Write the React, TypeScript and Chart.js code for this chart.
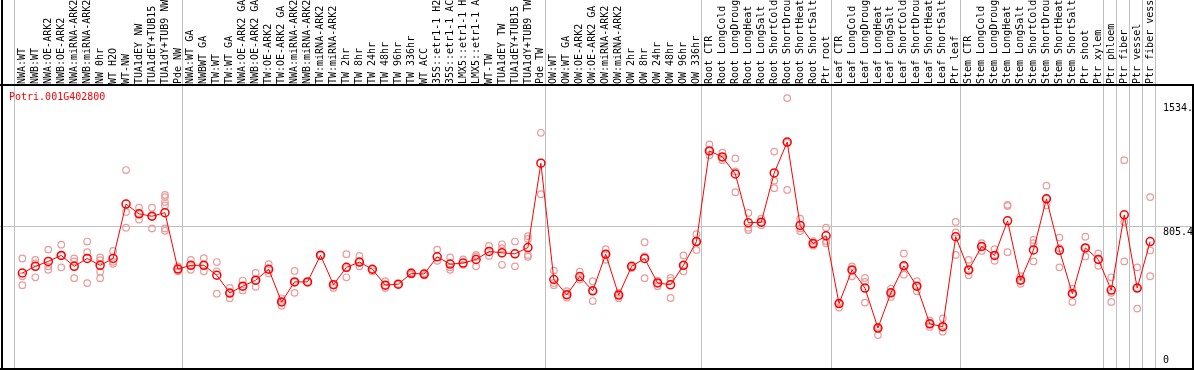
import React, { useEffect, useRef } from "react";
import { Chart, registerables } from "chart.js";

Chart.register(...registerables);

const geneId = "Potri.001G402800";

const categories: string[] = [
  "NWA:WT", "NWB:WT", "NWA:OE-ARK2", "NWB:OE-ARK2", "NWA:miRNA-ARK2", "NWB:miRNA-ARK2",
  "NW 0hr", "WT H2O", "WT-NW", "TUA1dEY NW", "TUA1dEY+TUB15 NW", "TUA1dY+TUB9 NW", "Pde NW",
  "NWA:WT GA", "NWBWT GA", "TW:WT", "TW:WT GA", "NWA:OE-ARK2 GA", "NWB:OE-ARK2 GA",
  "TW:OE-ARK2", "TW:OE-ARK2 GA", "NWA:miRNA-ARK2 GA", "NWB:miRNA-ARK2 GA", "TW:miRNA-ARK2",
  "TW:miRNA-ARK2 GA", "TW 2hr", "TW 8hr", "TW 24hr", "TW 48hr", "TW 96hr", "TW 336hr", "WT ACC",
  "35S::etr1-1 H2O", "35S::etr1-1 ACC", "LMX5::etr1-1 H2O", "LMX5::etr1-1 ACC", "WT-TW",
  "TUA1dEY TW", "TUA1dEY+TUB15 TW", "TUA1dY+TUB9 TW", "Pde TW",
  "OW:WT", "OW:WT GA", "OW:OE-ARK2", "OW:OE-ARK2 GA", "OW:miRNA-ARK2", "OW:miRNA-ARK2 GA",
  "OW 2hr", "OW 8hr", "OW 24hr", "OW 48hr", "OW 96hr", "OW 336hr",
  "Root CTR", "Root LongCold", "Root LongDrought", "Root LongHeat", "Root LongSalt",
  "Root ShortCold", "Root ShortDrought", "Root ShortHeat", "Root ShortSalt", "Ptr root",
  "Leaf CTR", "Leaf LongCold", "Leaf LongDrought", "Leaf LongHeat", "Leaf LongSalt",
  "Leaf ShortCold", "Leaf ShortDrought", "Leaf ShortHeat", "Leaf ShortSalt", "Ptr leaf",
  "Stem CTR", "Stem LongCold", "Stem LongDrought", "Stem LongHeat", "Stem LongSalt",
  "Stem ShortCold", "Stem ShortDrought", "Stem ShortHeat", "Stem ShortSalt", "Ptr shoot", "Ptr xylem",
  "Ptr phloem", "Ptr fiber", "Ptr vessel", "Ptr fiber vessel",
];

const meanValues: number[] = [
  535, 574, 603, 638, 574, 620, 580, 620, 938, 881, 867, 888, 558,
  580, 580, 522, 418, 458, 493, 557, 366, 483, 483, 639, 467, 568, 599, 557, 464, 470,
  533, 529, 630, 587, 593, 614, 661, 653, 647, 684, 1177,
  497, 408, 514, 431, 645, 406, 574, 620, 477, 466, 580, 719,
  1249, 1214, 1114, 829, 832, 1120, 1301, 813, 707, 753,
  356, 553, 447, 213, 419, 577, 458, 238, 221, 747,
  553, 690, 638, 840, 493, 670, 969, 668, 414, 682, 614,
  435, 875, 447, 719,
];

const replicateValues: number[][] = [
  [620, 516, 464], [612, 593, 510], [672, 574, 554], [701, 638, 568], [620, 603, 505],
  [719, 657, 476], [626, 610, 543, 505], [664, 601, 589], [1137, 892, 800], [917, 881, 848],
  [917, 867, 796], [992, 979, 950, 930, 796, 782], [574, 558, 545],
  [612, 580, 554], [622, 580, 545], [599, 545, 414], [448, 418, 387], [491, 458, 433],
  [535, 493, 454], [587, 557, 533], [387, 366, 343], [547, 483, 419], [483, 483],
  [639, 639], [467, 448], [645, 564, 510], [635, 599, 574], [557, 545], [487, 464, 448],
  [470, 470], [540, 533, 527], [533, 522], [672, 606], [626, 568, 554], [614, 583],
  [641, 630, 574], [693, 635], [703, 680, 583], [719, 574], [751, 734, 641, 630], [1355, 996],
  [549, 477, 464], [429, 408, 391], [543, 497], [487, 431, 371], [674, 645, 612],
  [419, 406, 387], [574, 564], [715, 632, 505], [491, 477, 458], [506, 491, 389],
  [638, 580, 545], [762, 719, 670],
  [1287, 1249, 1224], [1239, 1214, 1195], [1205, 1129, 1008], [886, 800, 786], [853, 832, 815],
  [1245, 1075, 1031], [1558, 1297, 1021], [853, 796, 780], [722, 707, 695], [800, 722, 709],
  [362, 356, 333], [574, 553, 516], [506, 483, 362], [221, 213, 172], [443, 419, 395],
  [649, 577, 525], [487, 458, 429], [256, 238, 220], [269, 221, 192], [834, 772, 641],
  [612, 553, 522], [709, 690, 664], [674, 638, 606], [934, 927, 657], [516, 493, 472],
  [728, 709, 603], [1046, 969, 930], [742, 680, 568], [444, 414, 366], [747, 682, 632],
  [649, 614, 577],
  [510, 419, 366], [1195, 834, 603], [568, 447, 327], [979, 667, 516],
];

const groupStarts: number[] = [0, 13, 41, 53, 63, 73, 84, 85, 86, 87, 88];
const yTickValues: number[] = [0, 805.4, 1534];
const yTickLabels: string[] = ["0", "805.4", "1534."];
const gridValue = 805.4;

const FONT = '10px "DejaVu Sans Mono", "Liberation Mono", monospace';
const W = 1194;
const H = 370;

const framePlugin = {
  id: "frame",
  beforeDatasetsDraw(chart: any) {
    const ctx = chart.ctx as CanvasRenderingContext2D;
    const xs = chart.scales.x;
    const ys = chart.scales.y;
    ctx.save();
    ctx.fillStyle = "#ffffff";
    ctx.fillRect(0, 0, W, H);
    ctx.fillStyle = "#c0c0c0";
    groupStarts.forEach((s) => {
      const px = Math.floor(xs.getPixelForValue(s - 0.615));
      ctx.fillRect(px, 0, 1, 368);
    });
    const gy = Math.floor(ys.getPixelForValue(gridValue));
    ctx.fillRect(0, gy, W, 1);
    ctx.fillStyle = "#000000";
    ctx.fillRect(1, 0, 2, H);
    ctx.fillRect(0, 84, W, 2);
    ctx.fillRect(0, 368, W, 2);
    ctx.fillRect(1192, 84, 2, H - 84);

    // header labels
    ctx.font = FONT;
    ctx.fillStyle = "#000000";
    ctx.textAlign = "left";
    ctx.textBaseline = "middle";
    ctx.beginPath();
    ctx.rect(0, 0, W, 84);
    ctx.save();
    ctx.clip();
    categories.forEach((label, i) => {
      const px = xs.getPixelForValue(i);
      ctx.save();
      ctx.translate(px, 84);
      ctx.rotate(-Math.PI / 2);
      ctx.fillText(label, 0, 0);
      ctx.restore();
    });
    ctx.restore();

    // gene id
    ctx.fillStyle = "#ff0000";
    ctx.textBaseline = "alphabetic";
    ctx.fillText(geneId, 9, 100);

    // right-hand value labels
    ctx.fillStyle = "#000000";
    ctx.save();
    ctx.beginPath();
    ctx.rect(1157, 86, 35, 282);
    ctx.clip();
    yTickValues.forEach((v, k) => {
      const py = ys.getPixelForValue(v);
      const y = v === 0 ? py - 1.5 : py + 8.5;
      ctx.fillText(yTickLabels[k], 1163, Math.round(y));
    });
    ctx.restore();
    ctx.restore();
  },
};

export default function App() {
  const ref = useRef<HTMLCanvasElement | null>(null);
  useEffect(() => {
    if (!ref.current) return;
    const repPoints: { x: number; y: number }[] = [];
    replicateValues.forEach((arr, i) => arr.forEach((v) => repPoints.push({ x: i, y: v })));
    const chart = new Chart(ref.current, {
      type: "scatter",
      data: {
        datasets: [
          {
            type: "line",
            data: meanValues.map((v, i) => ({ x: i, y: v })),
            borderColor: "#ff0000",
            borderWidth: 1,
            pointRadius: 4,
            pointBorderWidth: 1.5,
            pointBorderColor: "#ff0000",
            pointBackgroundColor: "rgba(0,0,0,0)",
            fill: false,
            tension: 0,
            order: 0,
          } as any,
          {
            type: "scatter",
            data: repPoints,
            pointRadius: 3.3,
            pointBorderWidth: 1.2,
            pointBorderColor: "#ec9a9a",
            pointBackgroundColor: "rgba(0,0,0,0)",
            order: 1,
          } as any,
        ],
      },
      options: {
        responsive: false,
        animation: false,
        devicePixelRatio: 1,
        events: [],
        layout: { padding: { left: 2.4, right: 38, top: 85, bottom: 2.5 } },
        scales: {
          x: { type: "linear", min: -1.3, max: 87.45, display: false },
          y: { type: "linear", min: 0, max: 1634.5, display: false },
        },
        plugins: { legend: { display: false }, tooltip: { enabled: false } },
      },
      plugins: [framePlugin],
    });
    return () => chart.destroy();
  }, []);
  return (
    <div style={{ position: "fixed", left: 0, top: 0, width: W, height: H, background: "#fff" }}>
      <canvas ref={ref} width={W} height={H} style={{ display: "block", width: W, height: H }} />
    </div>
  );
}
